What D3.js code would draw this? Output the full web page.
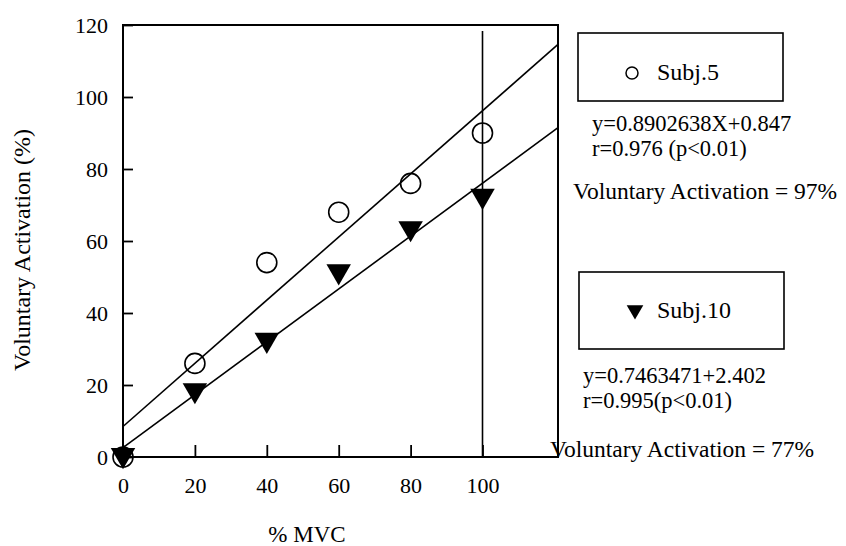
<!DOCTYPE html>
<html>
<head>
<meta charset="utf-8">
<script src="https://cdn.jsdelivr.net/npm/d3@7"></script>
<style>
  body { margin: 0; background: #fff; }
  svg text { font-family: "Liberation Serif", "Times New Roman", serif !important; fill: #000; }
  .tick text { font-size: 22px; }
  .tick line { stroke: #000; stroke-width: 1.8; }
</style>
</head>
<body>
<div id="chart"></div>
<script>
// % MVC levels
const mvc = [0, 20, 40, 60, 80, 100];
// Voluntary activation (%) per subject
const subj5 = [0, 26, 54, 68, 76, 90];
const subj10 = [0, 18, 32, 51, 63, 72];
const xTicks = [0, 20, 40, 60, 80, 100];
const yTicks = [0, 20, 40, 60, 80, 100, 120];

const width = 846, height = 546;
const plotL = 123, plotR = 558, plotT = 25, plotB = 457;

const svg = d3.select("#chart").append("svg")
    .attr("width", width)
    .attr("height", height);

const x = d3.scaleLinear().domain([0, 121]).range([plotL, plotR]);
const y = d3.scaleLinear().domain([0, 120]).range([plotB, plotT]);

// least squares fit, drawn across the whole frame
function fit(xs, ys) {
    const mx = d3.mean(xs), my = d3.mean(ys);
    let sxy = 0, sxx = 0;
    xs.forEach((v, i) => { sxy += (v - mx) * (ys[i] - my); sxx += (v - mx) ** 2; });
    const b = sxy / sxx;
    return { b: b, a: my - b * mx };
}

// axes (ticks point inward)
svg.append("g")
    .attr("transform", `translate(${plotL},0)`)
    .call(d3.axisLeft(y).tickValues(yTicks).tickSize(-10).tickPadding(15))
    .call(g => g.select(".domain").remove());

svg.append("g")
    .attr("transform", `translate(0,${plotB})`)
    .call(d3.axisBottom(x).tickValues(xTicks).tickSize(-12).tickPadding(20))
    .call(g => g.select(".domain").remove());

// frame
svg.append("rect")
    .attr("x", plotL).attr("y", plotT)
    .attr("width", plotR - plotL).attr("height", plotB - plotT)
    .attr("fill", "none").attr("stroke", "#000").attr("stroke-width", 2);

// vertical line at 100% MVC
svg.append("line")
    .attr("x1", x(100)).attr("x2", x(100))
    .attr("y1", plotT + 6).attr("y2", plotB)
    .attr("stroke", "#000").attr("stroke-width", 1.6);

// regression lines
[subj5, subj10].forEach(s => {
    const f = fit(mvc, s);
    svg.append("line")
        .attr("x1", x(0)).attr("y1", y(f.a))
        .attr("x2", x(121)).attr("y2", y(f.a + f.b * 121))
        .attr("stroke", "#000").attr("stroke-width", 1.6);
});

// markers
const tri = d3.symbol().type(d3.symbolTriangle).size(260);

svg.append("g").selectAll("path")
    .data(mvc.map((d, i) => [d, subj10[i]]))
    .join("path")
    .attr("d", tri)
    .attr("transform", d => `translate(${x(d[0])},${y(d[1]) - 2}) rotate(180)`)
    .attr("fill", "#000");

svg.append("g").selectAll("circle")
    .data(mvc.map((d, i) => [d, subj5[i]]))
    .join("circle")
    .attr("cx", d => x(d[0]))
    .attr("cy", d => y(d[1]))
    .attr("r", 10)
    .attr("fill", "none")
    .attr("stroke", "#000")
    .attr("stroke-width", 1.6);

// axis titles
svg.append("text")
    .attr("transform", "translate(30,250) rotate(-90)")
    .attr("text-anchor", "middle")
    .style("font-size", "24px")
    .text("Voluntary Activation (%)");

svg.append("text")
    .attr("x", 307).attr("y", 542)
    .attr("text-anchor", "middle")
    .style("font-size", "23px")
    .text("% MVC");

// legend boxes and notes
svg.append("rect")
    .attr("x", 578).attr("y", 33).attr("width", 205).attr("height", 68)
    .attr("fill", "none").attr("stroke", "#000").attr("stroke-width", 1.6);
svg.append("circle")
    .attr("cx", 632).attr("cy", 73).attr("r", 6)
    .attr("fill", "none").attr("stroke", "#000").attr("stroke-width", 1.5);
svg.append("text").attr("x", 657).attr("y", 80).style("font-size", "24px").text("Subj.5");

svg.append("rect")
    .attr("x", 579).attr("y", 272).attr("width", 205).attr("height", 77)
    .attr("fill", "none").attr("stroke", "#000").attr("stroke-width", 1.6);
svg.append("path")
    .attr("d", d3.symbol().type(d3.symbolTriangle).size(120))
    .attr("transform", "translate(635,310) rotate(180)")
    .attr("fill", "#000");
svg.append("text").attr("x", 657).attr("y", 318).style("font-size", "24px").text("Subj.10");

const notes = [
    { t: "y=0.8902638X+0.847", x: 592, y: 131, s: 22.5 },
    { t: "r=0.976 (p<0.01)", x: 592, y: 156, s: 22.5 },
    { t: "Voluntary Activation = 97%", x: 573, y: 199, s: 23.5 },
    { t: "y=0.7463471+2.402", x: 583, y: 383, s: 22.5 },
    { t: "r=0.995(p<0.01)", x: 583, y: 408, s: 22.5 },
    { t: "Voluntary Activation = 77%", x: 550, y: 457, s: 23.5 }
];
svg.append("g").selectAll("text")
    .data(notes)
    .join("text")
    .attr("x", d => d.x).attr("y", d => d.y)
    .style("font-size", d => d.s + "px")
    .text(d => d.t);
</script>
</body>
</html>
